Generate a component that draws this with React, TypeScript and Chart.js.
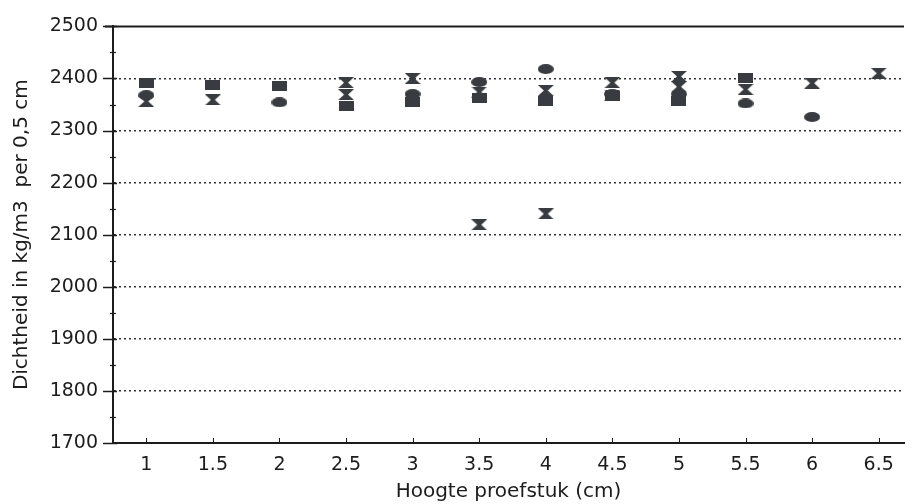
import React, { useEffect, useRef } from "react";
import { Chart, registerables } from "chart.js";

Chart.register(...registerables);

// Hoogte proefstuk (cm)
const heights = [1, 1.5, 2, 2.5, 3, 3.5, 4, 4.5, 5, 5.5, 6, 6.5];

// Dichtheid (kg/m3) per series, null = no visible marker
const squareSeries = [2392, 2388, 2386, 2348, 2354, 2362, 2356, 2366, 2357, 2400, null, null];
const circleSeries = [2368, null, 2354, null, 2370, 2393, 2418, 2370, 2370, 2352, 2326, null];
const hourglassSeries = [2356, 2359, null, 2392, 2400, 2119, 2140, 2392, 2404, 2379, 2391, 2410];
const hourglass2Series = [null, null, null, 2369, null, 2374, 2377, 2368, 2384, null, null, null];

const yTicks = [1700, 1800, 1900, 2000, 2100, 2200, 2300, 2400, 2500];
const xTicks = [1, 1.5, 2, 2.5, 3, 3.5, 4, 4.5, 5, 5.5, 6, 6.5];

const INK = "#1c1c1c";
const MARK = "#383b3f";
const FONT = "'DejaVu Sans', 'Liberation Sans', Arial, sans-serif";

function makeMarker(kind: string, w: number, h: number) {
  const c = document.createElement("canvas");
  c.width = w;
  c.height = h;
  const g = c.getContext("2d")!;
  g.fillStyle = MARK;
  if (kind === "rect") {
    g.fillRect(0, 0, w, h);
  } else if (kind === "ellipse") {
    g.beginPath();
    g.ellipse(w / 2, h / 2, w / 2, h / 2, 0, 0, Math.PI * 2);
    g.fill();
  } else {
    g.beginPath();
    g.moveTo(0, 0);
    g.lineTo(w, 0);
    g.lineTo(w / 2 + 2, h / 2);
    g.lineTo(w, h);
    g.lineTo(0, h);
    g.lineTo(w / 2 - 2, h / 2);
    g.closePath();
    g.fill();
  }
  return c;
}

function toPoints(arr: (number | null)[]) {
  const pts: { x: number; y: number }[] = [];
  heights.forEach((x, i) => {
    const v = arr[i];
    if (v !== null && v !== undefined) pts.push({ x, y: v });
  });
  return pts;
}

const framePlugin = {
  id: "frame",
  afterDraw(chart: any) {
    const { ctx, chartArea: a, scales } = chart;
    const y = scales.y;
    const x = scales.x;
    ctx.save();
    ctx.strokeStyle = INK;
    // top border
    ctx.lineWidth = 2;
    ctx.beginPath();
    ctx.moveTo(a.left - 8, a.top);
    ctx.lineTo(a.right, a.top);
    ctx.stroke();
    // y major ticks
    ctx.lineWidth = 1.5;
    yTicks.forEach((v) => {
      const py = Math.round(y.getPixelForValue(v)) + 0.5;
      ctx.beginPath();
      ctx.moveTo(a.left - 10, py);
      ctx.lineTo(a.left + 4, py);
      ctx.stroke();
    });
    // y minor ticks
    ctx.lineWidth = 1.2;
    for (let i = 0; i < yTicks.length - 1; i++) {
      const py = Math.round(y.getPixelForValue((yTicks[i] + yTicks[i + 1]) / 2)) + 0.5;
      ctx.beginPath();
      ctx.moveTo(a.left - 3, py);
      ctx.lineTo(a.left + 3, py);
      ctx.stroke();
    }
    // x inner ticks
    ctx.lineWidth = 1;
    xTicks.forEach((v) => {
      const px = Math.round(x.getPixelForValue(v)) + 0.5;
      ctx.beginPath();
      ctx.moveTo(px, a.bottom);
      ctx.lineTo(px, a.bottom - 5);
      ctx.stroke();
    });
    ctx.restore();
  },
};

export default function App() {
  const ref = useRef<HTMLCanvasElement | null>(null);

  useEffect(() => {
    document.body.style.margin = "0";
    const canvas = ref.current!;
    const sq = makeMarker("rect", 15, 10);
    const ci = makeMarker("ellipse", 16, 10);
    const hg = makeMarker("hourglass", 16, 11);

    const chart = new Chart(canvas, {
      type: "scatter",
      data: {
        datasets: [
          { label: "A", data: toPoints(squareSeries), pointStyle: sq as any, pointRadius: 7, showLine: false },
          { label: "B", data: toPoints(circleSeries), pointStyle: ci as any, pointRadius: 7, showLine: false },
          { label: "C", data: toPoints(hourglassSeries), pointStyle: hg as any, pointRadius: 7, showLine: false },
          { label: "D", data: toPoints(hourglass2Series), pointStyle: hg as any, pointRadius: 7, showLine: false },
        ],
      },
      options: {
        animation: false,
        responsive: false,
        devicePixelRatio: 1,
        layout: { padding: { top: 20, right: 0, bottom: 0, left: 0 } },
        plugins: {
          legend: { display: false },
          tooltip: { enabled: false },
          title: { display: false },
        },
        scales: {
          x: {
            type: "linear",
            min: 0.75,
            max: 6.69,
            afterBuildTicks: (s: any) => {
              s.ticks = xTicks.map((v) => ({ value: v }));
            },
            afterFit: (s: any) => {
              s.height = 61;
            },
            grid: { display: false, drawTicks: false },
            border: { display: true, color: INK, width: 2 },
            ticks: {
              color: INK,
              padding: 11,
              maxRotation: 0,
              autoSkip: false,
              font: { family: FONT, size: 19 },
              callback: (v: any) => String(v),
            },
            title: {
              display: true,
              text: "Hoogte proefstuk (cm)",
              color: INK,
              font: { family: FONT, size: 20 },
              padding: { top: 0, bottom: 0 },
            },
          },
          y: {
            type: "linear",
            min: 1700,
            max: 2500,
            afterBuildTicks: (s: any) => {
              s.ticks = yTicks.map((v) => ({ value: v }));
            },
            afterFit: (s: any) => {
              s.width = 113;
            },
            grid: {
              drawTicks: false,
              lineWidth: 1.6,
              color: (c: any) =>
                c.tick && c.tick.value > 1700 && c.tick.value < 2500 ? "#333" : "rgba(0,0,0,0)",
            },
            border: { display: true, color: INK, width: 2, dash: [2, 3] },
            ticks: {
              color: INK,
              padding: 15,
              font: { family: FONT, size: 19 },
              callback: (v: any) => String(v),
            },
            title: {
              display: true,
              text: "Dichtheid in kg/m3  per 0,5 cm",
              color: INK,
              font: { family: FONT, size: 20 },
              padding: { top: 10, bottom: 0 },
            },
          },
        },
      },
      plugins: [framePlugin],
    });
    return () => chart.destroy();
  }, []);

  return (
    <div style={{ width: 912, height: 504, background: "#fff" }}>
      <canvas ref={ref} width={912} height={504} style={{ display: "block" }} />
    </div>
  );
}
